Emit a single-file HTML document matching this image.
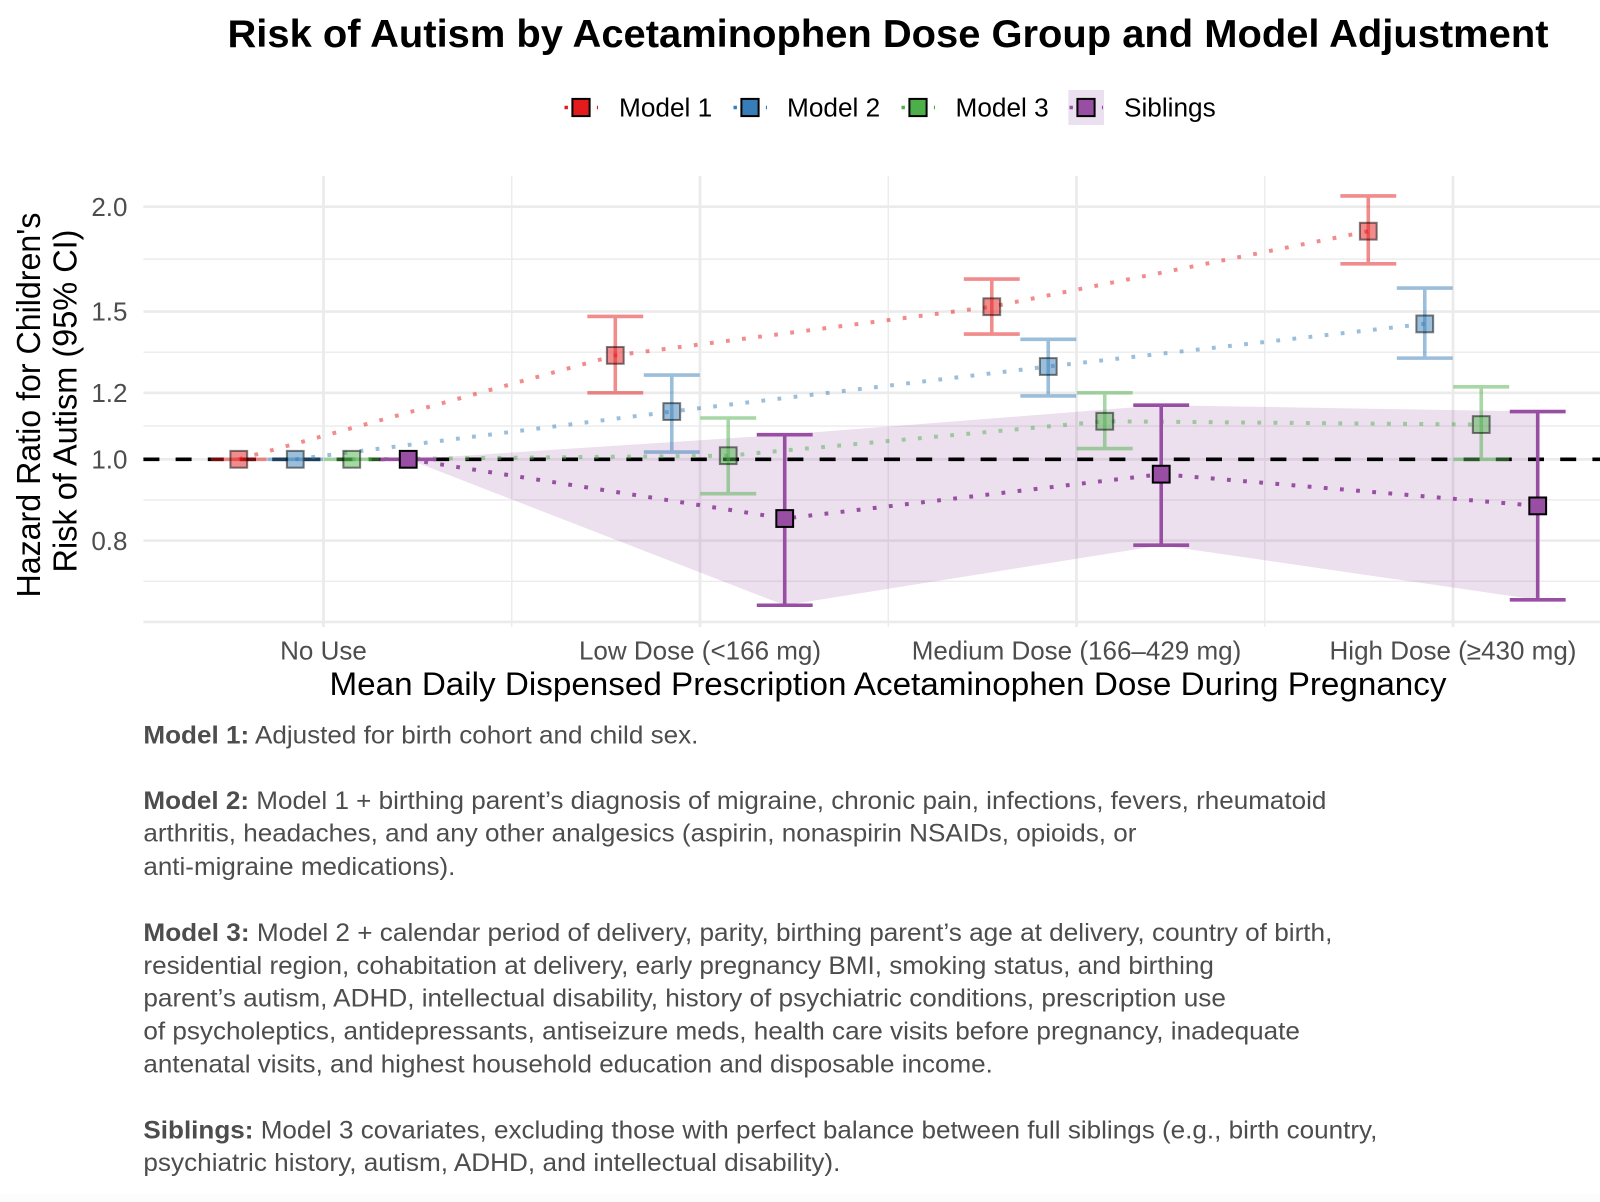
<!DOCTYPE html>
<html lang="en">
<head>
<meta charset="utf-8">
<title>Risk of Autism by Acetaminophen Dose Group and Model Adjustment</title>
<style>
html,body{margin:0;padding:0;background:#fff;}
svg{display:block;font-family:"Liberation Sans",Arial,sans-serif;}
.note{font-size:25px;fill:#4d4d4d;}
.note tspan.b{font-weight:bold;}
.legend-label{font-size:26.2px;fill:#000;}
</style>
</head>
<body>
<svg id="chart" xmlns="http://www.w3.org/2000/svg" width="1600" height="1202" viewBox="0 0 1600 1202">
  <rect x="0" y="0" width="1600" height="1202" fill="#ffffff"/>
  <rect x="0" y="1194" width="1600" height="8" fill="#fcfcfc"/>

  <text x="227.5" y="47" font-size="38.5" font-weight="bold" fill="#000" textLength="1321" lengthAdjust="spacingAndGlyphs">Risk of Autism by Acetaminophen Dose Group and Model Adjustment</text>

  <g id="legend">
    <rect x="1068.4" y="90" width="35.6" height="35" fill="#ebe0ef"/>
  </g>

  <g id="plot"></g>

  <text x="329.5" y="695" font-size="32" fill="#000" textLength="1117" lengthAdjust="spacingAndGlyphs">Mean Daily Dispensed Prescription Acetaminophen Dose During Pregnancy</text>
  <text transform="translate(40,597.5) rotate(-90)" font-size="33.5" fill="#000" textLength="385" lengthAdjust="spacingAndGlyphs">Hazard Ratio for Children's</text>
  <text transform="translate(76.5,572.5) rotate(-90)" font-size="33.5" fill="#000" textLength="343" lengthAdjust="spacingAndGlyphs">Risk of Autism (95% CI)</text>

  <g>
    <text class="note" x="143.4" y="743.3" textLength="555" lengthAdjust="spacingAndGlyphs"><tspan class="b">Model 1:</tspan> Adjusted for birth cohort and child sex.</text>
    <text class="note" x="143.4" y="809" textLength="1183" lengthAdjust="spacingAndGlyphs"><tspan class="b">Model 2:</tspan> Model 1 + birthing parent’s diagnosis of migraine, chronic pain, infections, fevers, rheumatoid</text>
    <text class="note" x="143.4" y="841.7" textLength="993" lengthAdjust="spacingAndGlyphs">arthritis, headaches, and any other analgesics (aspirin, nonaspirin NSAIDs, opioids, or</text>
    <text class="note" x="143.4" y="875" textLength="312" lengthAdjust="spacingAndGlyphs">anti-migraine medications).</text>
    <text class="note" x="143.4" y="941" textLength="1189" lengthAdjust="spacingAndGlyphs"><tspan class="b">Model 3:</tspan> Model 2 + calendar period of delivery, parity, birthing parent’s age at delivery, country of birth,</text>
    <text class="note" x="143.4" y="974" textLength="1070.5" lengthAdjust="spacingAndGlyphs">residential region, cohabitation at delivery, early pregnancy BMI, smoking status, and birthing</text>
    <text class="note" x="143.4" y="1006.7" textLength="1082.5" lengthAdjust="spacingAndGlyphs">parent’s autism, ADHD, intellectual disability, history of psychiatric conditions, prescription use</text>
    <text class="note" x="143.4" y="1039.3" textLength="1156.5" lengthAdjust="spacingAndGlyphs">of psycholeptics, antidepressants, antiseizure meds, health care visits before pregnancy, inadequate</text>
    <text class="note" x="143.4" y="1072.3" textLength="849.5" lengthAdjust="spacingAndGlyphs">antenatal visits, and highest household education and disposable income.</text>
    <text class="note" x="143.4" y="1138.3" textLength="1234" lengthAdjust="spacingAndGlyphs"><tspan class="b">Siblings:</tspan> Model 3 covariates, excluding those with perfect balance between full siblings (e.g., birth country,</text>
    <text class="note" x="143.4" y="1171" textLength="697" lengthAdjust="spacingAndGlyphs">psychiatric history, autism, ADHD, and intellectual disability).</text>
  </g>
</svg>

<script>
// ---- chart data ----
const categories = ["No Use", "Low Dose (<166 mg)", "Medium Dose (166–429 mg)", "High Dose (≥430 mg)"];
const seriesNames = ["Model 1", "Model 2", "Model 3", "Siblings"];
const yTickValues = [0.8, 1.0, 1.2, 1.5, 2.0];
const yTickLabels = ["0.8", "1.0", "1.2", "1.5", "2.0"];
const yGridBreaks = [0.64, 0.8, 1.0, 1.2, 1.5, 2.0];

const model1Hr = [1.00, 1.33, 1.52, 1.87];
const model1Lower = [1.00, 1.20, 1.41, 1.71];
const model1Upper = [1.00, 1.48, 1.64, 2.06];

const model2Hr = [1.00, 1.14, 1.29, 1.45];
const model2Lower = [1.00, 1.02, 1.19, 1.32];
const model2Upper = [1.00, 1.26, 1.39, 1.60];

const model3Hr = [1.00, 1.01, 1.11, 1.10];
const model3Lower = [1.00, 0.91, 1.03, 1.00];
const model3Upper = [1.00, 1.12, 1.20, 1.22];

const siblingsHr = [1.00, 0.85, 0.96, 0.88];
const siblingsLower = [1.00, 0.67, 0.79, 0.68];
const siblingsUpper = [1.00, 1.07, 1.16, 1.14];

const referenceHr = 1.0;

// ---- axis functions ----
const SVGNS = "http://www.w3.org/2000/svg";
const plotLeft = 143.4, plotRight = 1600, plotTop = 176, plotBottom = 627;
function xScale(u) { return 323.5 + 376.5 * u; }
function yScale(v) { return 459.3 - 252.6 * Math.log2(v); }
const dodgeStep = 0.15;
function dodge(seriesIndex) { return (seriesIndex - 1.5) * dodgeStep; }

const colors = ["#e41a1c", "#377eb8", "#4daf4a", "#984ea3"];
const alphas = [0.5, 0.5, 0.5, 1];
const hrs = [model1Hr, model2Hr, model3Hr, siblingsHr];
const lowers = [model1Lower, model2Lower, model3Lower, siblingsLower];
const uppers = [model1Upper, model2Upper, model3Upper, siblingsUpper];

function make(tag, attrs, parent, text) {
  const el = document.createElementNS(SVGNS, tag);
  for (const k in attrs) el.setAttribute(k, attrs[k]);
  if (text !== undefined) el.textContent = text;
  parent.appendChild(el);
  return el;
}

const plot = document.getElementById("plot");
const legend = document.getElementById("legend");

// ---- grid ----
const gridG = make("g", {}, plot);


yGridBreaks.forEach(function (b, i) {
  const major = make("line", {x1: plotLeft, x2: plotRight, y1: yScale(b), y2: yScale(b), stroke: "#ebebeb", "stroke-width": 2.6}, gridG);
  
  
  if (i < yGridBreaks.length - 1) {
    const mid = Math.sqrt(b * yGridBreaks[i + 1]);
    const minor = make("line", {x1: plotLeft, x2: plotRight, y1: yScale(mid), y2: yScale(mid), stroke: "#ebebeb", "stroke-width": 1.4}, gridG);
    
    
  }
});
categories.forEach(function (c, i) {
  const vMajor = make("line", {x1: xScale(i), x2: xScale(i), y1: plotTop, y2: plotBottom, stroke: "#ebebeb", "stroke-width": 2.8}, gridG);
  
  
  if (i < categories.length - 1) {
    const vMinor = make("line", {x1: xScale(i + 0.5), x2: xScale(i + 0.5), y1: plotTop, y2: plotBottom, stroke: "#ebebeb", "stroke-width": 1.4}, gridG);
    
    
  }
});

// ---- axis tick labels ----
yTickValues.forEach(function (v, i) {
  const t = make("text", {x: 127.5, y: yScale(v) + 9.2, "text-anchor": "end", "font-size": 26, fill: "#4d4d4d"}, plot, yTickLabels[i]);
  
  
});
categories.forEach(function (c, i) {
  const t = make("text", {x: xScale(i), y: 659.3, "text-anchor": "middle", "font-size": 26, fill: "#4d4d4d"}, plot, c);
  
  
});

// ---- siblings ribbon ----
const sibOffset = dodge(3);
const ribbonTop = siblingsUpper.map(function (v, i) { return xScale(i + sibOffset) + "," + yScale(v); });
const ribbonBottom = siblingsLower.map(function (v, i) { return xScale(i + sibOffset) + "," + yScale(v); }).reverse();
const ribbon = make("polygon", {points: ribbonTop.concat(ribbonBottom).join(" "), fill: "#984ea3", "fill-opacity": 0.18}, plot);



// ---- reference line ----
const refLine = make("line", {x1: plotLeft, x2: plotRight, y1: yScale(referenceHr), y2: yScale(referenceHr), stroke: "#000", "stroke-width": 3.6, "stroke-dasharray": "16 16.2"}, plot);



// ---- series ----
seriesNames.forEach(function (name, s) {
  const g = make("g", {}, plot);
  
  
  const pts = hrs[s].map(function (v, i) { return xScale(i + dodge(s)) + "," + yScale(v); });
  const path = make("polyline", {points: pts.join(" "), fill: "none", stroke: colors[s], "stroke-opacity": alphas[s], "stroke-width": 4, "stroke-dasharray": "3.8 12.4"}, g);
  
  

  hrs[s].forEach(function (v, i) {
    const cx = xScale(i + dodge(s));
    const half = (xScale(dodgeStep) - xScale(0)) / 2 - 0.3;
    const yLo = yScale(lowers[s][i]), yHi = yScale(uppers[s][i]);
    const ebAttrs = {fill: "none", stroke: colors[s], "stroke-opacity": alphas[s], "stroke-width": 3.6};
    const eb = make("path", Object.assign({d: "M" + (cx - half) + " " + yHi + "H" + (cx + half) + "M" + cx + " " + yHi + "V" + yLo + "M" + (cx - half) + " " + yLo + "H" + (cx + half)}, ebAttrs), g);
    
    
    const y = yScale(v);
    const marker = make("rect", {x: cx - 8.4, y: y - 8.4, width: 16.8, height: 16.8, fill: colors[s], "fill-opacity": alphas[s], stroke: "#000", "stroke-opacity": alphas[s], "stroke-width": 2}, g);
    
    
  });
});

// ---- legend ----
const legendKeyCenter = [581, 750, 918, 1086];
const legendTextStart = [619, 787, 955.5, 1124];
seriesNames.forEach(function (name, s) {
  const cx = legendKeyCenter[s];
  const dots = make("line", {x1: cx - 16.5, x2: cx + 17, y1: 107.5, y2: 107.5, stroke: colors[s], "stroke-width": 3.6, "stroke-dasharray": "3.4 12.8"}, legend);
  
  
  const swatch = make("rect", {x: cx - 8.6, y: 98.9, width: 17.2, height: 17.2, fill: colors[s], stroke: "#000", "stroke-width": 2}, legend);
  
  
  const label = make("text", {x: legendTextStart[s], y: 116.7, class: "legend-label"}, legend, name);
  
  
});
</script>
</body>
</html>
